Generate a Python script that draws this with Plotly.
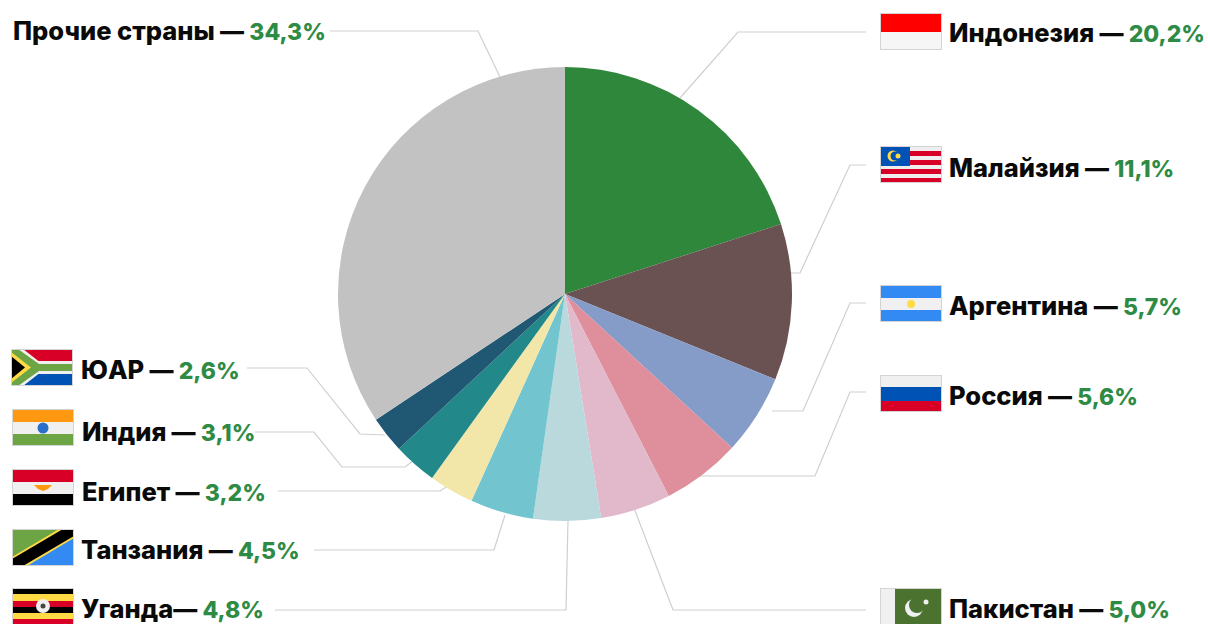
import base64
import plotly.graph_objects as go

W, H = 1208, 624
countries = ["Индонезия", "Малайзия", "Аргентина", "Россия", "Пакистан", "Уганда",
             "Танзания", "Египет", "Индия", "ЮАР", "Прочие страны"]
shares = [20.0, 11.1, 5.7, 5.6, 5.0, 4.8, 4.5, 3.2, 3.1, 2.6, 34.3]
pct_labels = ["20,2%", "11,1%", "5,7%", "5,6%", "5,0%", "4,8%", "4,5%", "3,2%", "3,1%", "2,6%", "34,3%"]
separators = [" — ", " — ", " — ", " — ", " — ", "— ", " — ", " — ", " — ", " — ", " — "]
colors = ["#2f873b", "#6b5252", "#859bc8", "#df8e9b", "#e2b8cb", "#bad9dc",
          "#72c5cf", "#f2e7a9", "#22888a", "#205873", "#c2c2c2"]
label_pos = [(948, 32), (948, 168), (948, 305), (948, 395), (948, 608), (80, 608),
             (80, 549), (81, 491), (81, 431), (80, 369), (12, 30)]
leaders = [
    [(680, 98), (738, 32), (866, 32)],
    [(791, 273), (800, 273), (850, 165), (866, 165)],
    [(772, 411), (803, 411), (850, 303), (866, 303)],
    [(695, 476), (815, 476), (850, 392), (866, 392)],
    [(634, 508), (673, 610), (866, 610)],
    [(568, 520), (566, 610), (275, 610)],
    [(505, 515), (494, 550), (314, 550)],
    [(451, 484), (440, 491), (278, 491)],
    [(417, 458), (405, 467), (342, 467), (314, 432), (255, 432)],
    [(385, 435), (360, 434), (307, 368), (247, 368)],
    [(500, 77), (478, 31), (330, 31)],
]
BORDER = '<rect x="0.5" y="0.5" width="61" height="36" fill="none" stroke="#d4d4d4"/>'
flags = {
    "id": ('<rect width="62" height="19" fill="#ff0000"/><rect y="19" width="62" height="18" fill="#f6f6f6"/>', (880, 13)),
    "my": ('<rect width="62" height="37" fill="#eeeeee"/>'
           + "".join(f'<rect y="{y}" width="62" height="{h}" fill="#d80027"/>' for y, h in [(5, 5), (14, 5), (23, 5), (32, 4)])
           + '<rect width="30" height="20" fill="#0052b4"/><circle cx="13" cy="10" r="5.5" fill="#ffda44"/>'
             '<circle cx="15" cy="10" r="4.5" fill="#0052b4"/><circle cx="18" cy="10" r="2.5" fill="#ffda44"/>', (880, 146)),
    "ar": ('<rect width="62" height="13" fill="#338af3"/><rect y="13" width="62" height="12" fill="#f0f0f0"/>'
           '<rect y="25" width="62" height="12" fill="#338af3"/><circle cx="31" cy="19" r="4" fill="#ffda44"/>', (880, 285)),
    "ru": ('<rect width="62" height="12" fill="#f0f0f0"/><rect y="12" width="62" height="14" fill="#0052b4"/>'
           '<rect y="26" width="62" height="11" fill="#d80027"/>', (880, 375)),
    "pk": ('<rect width="62" height="37" fill="#f0f0f0"/><rect x="15" width="47" height="37" fill="#4b722f"/>'
           '<circle cx="34" cy="20" r="9" fill="#f0f0f0"/><circle cx="37" cy="17" r="8" fill="#4b722f"/>'
           '<circle cx="46" cy="14" r="2.5" fill="#f0f0f0"/>', (880, 588)),
    "ug": ('<rect width="62" height="37" fill="#000"/><rect y="6" width="62" height="7" fill="#ffda44"/>'
           '<rect y="13" width="62" height="6" fill="#d80027"/><rect y="25" width="62" height="6" fill="#ffda44"/>'
           '<rect y="31" width="62" height="6" fill="#d80027"/><circle cx="31" cy="18" r="7" fill="#f0f0f0"/>'
           '<circle cx="31" cy="18" r="2.5" fill="#444"/>', (12, 588)),
    "tz": ('<rect width="62" height="37" fill="#338af3"/><polygon points="0,0 62,0 0,37" fill="#6da544"/>'
           '<polygon points="62,0 62,9 15,37 0,37 0,28 47,0" fill="#ffda44"/>'
           '<polygon points="62,2 62,7 11,37 3,37 0,35 0,30 51,0 60,0" fill="#000"/>', (12, 529)),
    "eg": ('<rect width="62" height="13" fill="#d80027"/><rect y="13" width="62" height="12" fill="#f0f0f0"/>'
           '<rect y="25" width="62" height="12" fill="#000"/><polygon points="22,16 40,16 36,20 31,22 26,20" fill="#ff9811"/>', (12, 469)),
    "in": ('<rect width="62" height="13" fill="#ff9811"/><rect y="13" width="62" height="12" fill="#f0f0f0"/>'
           '<rect y="25" width="62" height="12" fill="#6da544"/><circle cx="31" cy="19" r="5.5" fill="#2a6fc9"/>', (12, 409)),
    "za": ('<rect width="62" height="37" fill="#f0f0f0"/><rect width="62" height="12" fill="#d80027"/>'
           '<rect y="25" width="62" height="12" fill="#0052b4"/><polygon points="0,0 12,0 30,14 62,14 62,23 30,23 12,37 0,37" fill="#f0f0f0"/>'
           '<polygon points="0,0 7,0 28,15 62,15 62,22 28,22 7,37 0,37" fill="#6da544"/>'
           '<polygon points="0,3 20,18.5 0,34" fill="#ffda44"/><polygon points="0,7 14,18.5 0,30" fill="#000"/>', (11, 349)),
}


def px(x):
    return x / W


def py(y):
    return 1 - y / H


fig = go.Figure(go.Pie(
    labels=countries, values=shares, sort=False, direction="clockwise", rotation=0,
    marker=dict(colors=colors, line=dict(width=0)), textinfo="none", hoverinfo="label+percent",
    domain=dict(x=[px(338), px(792)], y=[py(521), py(67)]), showlegend=False,
))

shapes = []
for pts in leaders:
    path = "M " + " L ".join(f"{px(x):.5f},{py(y):.5f}" for x, y in pts)
    shapes.append(dict(type="path", path=path, xref="paper", yref="paper", layer="below",
                       line=dict(color="#cfcfcf", width=1.2)))

annotations = []
for name, sep, pct, (x, y) in zip(countries, separators, pct_labels, label_pos):
    annotations.append(dict(
        x=px(x), y=py(y), xref="paper", yref="paper", xanchor="left", yanchor="middle",
        showarrow=False, borderpad=0,
        text=(f'<span style="font-size:25.5px">{name}</span>'
              f'<span style="font-size:24px">{sep}</span>'
              f'<span style="color:#2e8b45;font-size:23px">{pct}</span>'),
        font=dict(family="Inter, sans-serif", size=25, color="#0a0a0a", weight=800),
    ))

images = []
for svg_body, (x, y) in flags.values():
    svg = f'<svg xmlns="http://www.w3.org/2000/svg" width="62" height="37" viewBox="0 0 62 37">{svg_body}{BORDER}</svg>'
    src = "data:image/svg+xml;base64," + base64.b64encode(svg.encode()).decode()
    images.append(dict(source=src, xref="paper", yref="paper", x=px(x), y=py(y),
                       sizex=62 / W, sizey=37 / H, xanchor="left", yanchor="top",
                       sizing="stretch", layer="above"))

fig.update_layout(width=W, height=H, margin=dict(l=0, r=0, t=0, b=0), autosize=False,
                  paper_bgcolor="white", plot_bgcolor="white",
                  shapes=shapes, annotations=annotations, images=images)
fig.write_html("out.html", config=dict(displayModeBar=False),
               post_script="document.body.style.margin='0';document.documentElement.style.overflow='hidden';")
